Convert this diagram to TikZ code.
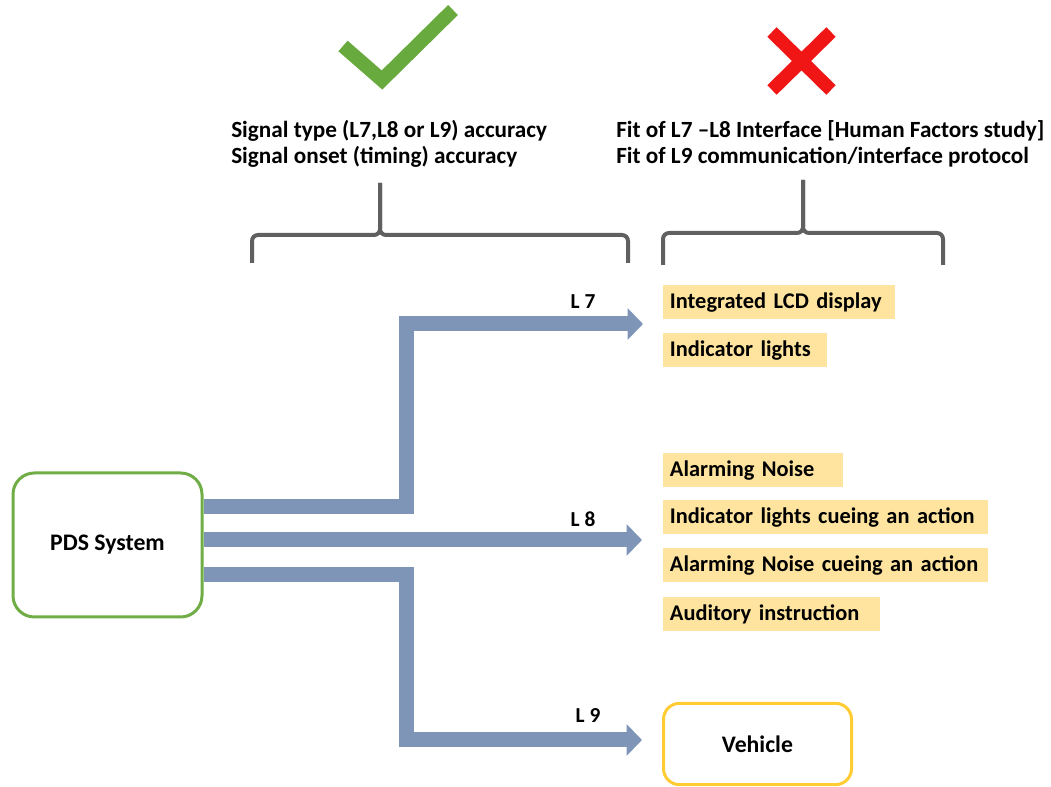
\documentclass[tikz,border=0pt]{standalone}
\usepackage{fontspec}
\setmainfont{Carlito}
\usetikzlibrary{arrows.meta,calc}

\definecolor{flowblue}{RGB}{127,149,184}
\definecolor{boxgreen}{RGB}{112,173,71}
\definecolor{checkgreen}{RGB}{104,170,62}
\definecolor{crossred}{RGB}{240,22,22}
\definecolor{bracegray}{RGB}{96,96,96}
\definecolor{tagfill}{RGB}{254,228,158}
\definecolor{vehicleedge}{RGB}{255,204,51}

\tikzset{
  txt/.style={font=\fontsize{17.4pt}{20pt}\selectfont\bfseries, inner sep=0pt, align=left},
  tag/.style={fill=tagfill, anchor=north west, minimum height=25.5pt, inner xsep=5pt, inner ysep=0pt,
              align=left, font=\fontsize{16.8pt}{19pt}\selectfont\bfseries},
  flow/.style={draw=flowblue, line width=11.25pt, line join=miter,
               -{Triangle[width=23pt,length=11.5pt]}},
  lbl/.style={font=\fontsize{16pt}{18pt}\selectfont\bfseries, inner sep=0pt},
  brace/.style={draw=bracegray, line width=3pt, rounded corners=4.5pt},
  boxtext/.style={font=\fontsize{17.8pt}{20pt}\selectfont\bfseries},
}

\begin{document}
\begin{tikzpicture}[x=0.75pt,y=-0.75pt]
\useasboundingbox (0,0) rectangle (1051,787);

% approval / rejection marks
\draw[checkgreen, line width=10.5pt, line join=miter] (343,46) -- (382,80) -- (453,10);
\draw[crossred, line width=10pt] (772,32) -- (831,90) (831,32) -- (772,90);

% criteria text
\node[txt, anchor=west] (ok) at (231,144)
  {Signal type (L7,L8 or L9) accuracy\\Signal onset (timing) accuracy};
\node[txt, anchor=west] (no) at (616,144)
  {Fit of L7 –L8 Interface [Human Factors study]\\Fit of L9 communication/interface protocol};

% braces
\draw[brace] (252,263) -- (252,235) -- (380,235) -- (380,183);
\draw[brace] (380,183) -- (380,235) -- (628,235) -- (628,263);
\draw[brace] (663,265) -- (663,233) -- (803,233) -- (803,180);
\draw[brace] (803,180) -- (803,233) -- (943,233) -- (943,265);

% source system
\node[draw=boxgreen, line width=2.25pt, rounded corners=16pt, minimum width=141.75pt,
      minimum height=108pt, boxtext] (pds) at (107.5,545) {PDS System};

% output tags
\node[tag, text width=164pt] (lcd) at (663,285) {Integrated LCD display};
\node[tag, text width=113pt] (ind) at (663,333) {Indicator lights};
\node[tag, text width=125pt] (noise) at (663,453) {Alarming Noise};
\node[tag, text width=233.75pt] (indcue) at (663,500) {Indicator lights cueing an action};
\node[tag, text width=233.75pt] (noisecue) at (663,548) {Alarming Noise cueing an action};
\node[tag, text width=152.75pt] (aud) at (663,597) {Auditory instruction};

\node[draw=vehicleedge, line width=2.25pt, rounded corners=12pt, minimum width=141pt,
      minimum height=61pt, boxtext] (veh) at (757.5,744) {Vehicle};

% flow arrows
\coordinate (c7) at (406,324);
\coordinate (t7) at (643,324);
\coordinate (t8) at (642,540);
\coordinate (c9) at (406,740);
\coordinate (t9) at (642,740);

\draw[flow] ($(pds.east)+(0,-38)$) -| (c7) -- (t7);
\draw[flow] ($(pds.east)+(0,-5)$) -- (t8);
\draw[flow] ($(pds.east)+(0,30)$) -| (c9) -- (t9);

\node[lbl] (l7) at (583,302) {L 7};
\node[lbl] (l8) at (583,519) {L 8};
\node[lbl] (l9) at (588,716) {L 9};
\end{tikzpicture}
\end{document}
